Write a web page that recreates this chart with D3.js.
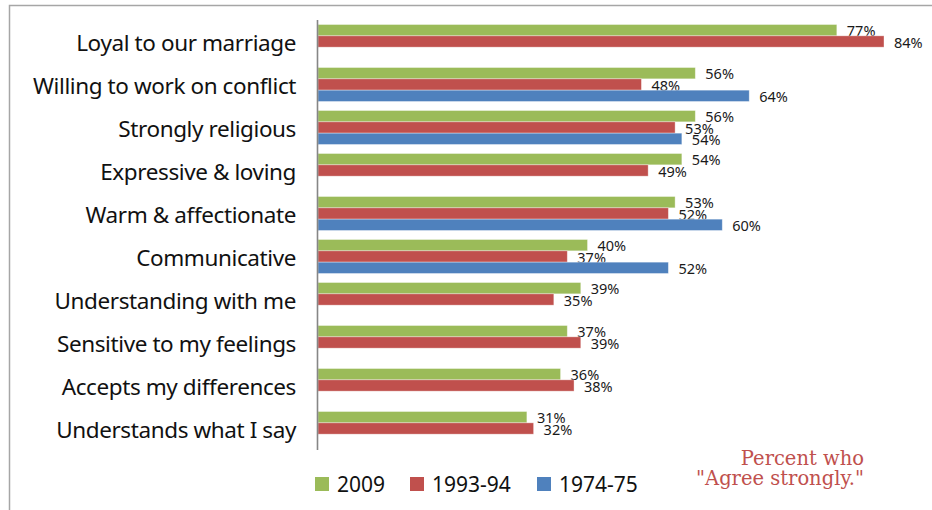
<!DOCTYPE html>
<html>
<head>
<meta charset="utf-8">
<script src="https://cdn.jsdelivr.net/npm/d3@7"></script>
<style>
  html, body { margin: 0; padding: 0; background: #fff; }
  #chart { width: 932px; height: 510px; }
</style>
</head>
<body>
<div id="chart"></div>
<script>
const categories = [
  "Loyal to our marriage",
  "Willing to work on conflict",
  "Strongly religious",
  "Expressive & loving",
  "Warm & affectionate",
  "Communicative",
  "Understanding with me",
  "Sensitive to my feelings",
  "Accepts my differences",
  "Understands what I say",
];

const seriesNames = ["2009", "1993-94", "1974-75"];
const values2009 = [77, 56, 56, 54, 53, 40, 39, 37, 36, 31];
const values1993 = [84, 48, 53, 49, 52, 37, 35, 39, 38, 32];
const values1974 = [null, 64, 54, null, 60, 52, null, null, null, null];
const seriesColors = ["#9bbb59", "#c0504d", "#4f81bd"];
const noteLines = ["Percent who", "\"Agree strongly.\""];

const width = 932;
const height = 510;

const series = [values2009, values1993, values1974].map((vals, i) => ({
  name: seriesNames[i],
  color: seriesColors[i],
  values: vals,
}));

const svg = d3
  .select("#chart")
  .append("svg")
  .attr("width", width)
  .attr("height", height)
  .attr("viewBox", `0 0 ${width} ${height}`);

// outer frame (top + left edges only)
svg.append("path")
  .attr("d", `M9.5,${height} V5.5 H${width}`)
  .attr("fill", "none")
  .attr("stroke", "#a6a6a6")
  .attr("stroke-width", 1.5);

const x = d3.scaleLinear().domain([0, 100]).range([318, 318 + 673.8]);

const y = d3
  .scaleBand()
  .domain(categories)
  .range([20, 450])
  .paddingInner(0.21)
  .paddingOuter(0.105);

const ySeries = d3
  .scaleBand()
  .domain(seriesNames)
  .range([0, y.bandwidth()]);

const groups = svg
  .selectAll("g.cat")
  .data(categories)
  .join("g")
  .attr("class", "cat")
  .attr("transform", (d) => `translate(0, ${y(d)})`);

series.forEach((s) => {
  const pts = categories
    .map((c, i) => ({ cat: c, value: s.values[i] }))
    .filter((d) => d.value != null);

  const g = svg.append("g");

  g.selectAll("rect")
    .data(pts)
    .join("rect")
    .attr("x", x(0))
    .attr("y", (d) => y(d.cat) + ySeries(s.name))
    .attr("width", (d) => x(d.value) - x(0))
    .attr("height", ySeries.bandwidth())
    .attr("fill", s.color)
    .attr("stroke", "#ffffff")
    .attr("stroke-opacity", 0.45)
    .attr("stroke-width", 0.8);

  g.selectAll("text")
    .data(pts)
    .join("text")
    .attr("x", (d) => x(d.value) + 10)
    .attr("y", (d) => y(d.cat) + ySeries(s.name) + ySeries.bandwidth() / 2 + 1)
    .attr("dy", "0.36em")
    .attr("font-family", "'Noto Sans', sans-serif")
    .attr("font-size", 14.5)
    .attr("fill", "#1a1a1a")
    .text((d) => `${d.value}%`);
});

// category axis
svg.append("line")
  .attr("x1", x(0) - 0.5)
  .attr("x2", x(0) - 0.5)
  .attr("y1", 20)
  .attr("y2", 450)
  .attr("stroke", "#868686")
  .attr("stroke-width", 1.6);

groups.append("text")
  .attr("x", 296)
  .attr("y", y.bandwidth() / 2 + 1)
  .attr("dy", "0.36em")
  .attr("text-anchor", "end")
  .attr("font-family", "'Noto Sans', sans-serif")
  .attr("font-size", 22.5)
  .attr("letter-spacing", -0.4)
  .attr("fill", "#111")
  .text((d) => d);

// legend
const legendX = [315, 410, 537];
const legend = svg.append("g");

series.forEach((s, i) => {
  const entry = legend.append("g").attr("transform", `translate(${legendX[i]}, 484)`);
  entry.append("rect")
    .attr("x", 0)
    .attr("y", -7)
    .attr("width", 14)
    .attr("height", 14)
    .attr("fill", s.color);
  entry.append("text")
    .attr("x", 22)
    .attr("y", 0)
    .attr("dy", "0.36em")
    .attr("font-family", "'Noto Sans', sans-serif")
    .attr("font-size", 21)
    .attr("fill", "#111")
    .text(s.name);
});

// note
svg.append("g")
  .selectAll("text")
  .data(noteLines)
  .join("text")
  .attr("x", 864)
  .attr("y", (d, i) => 465 + i * 20)
  .attr("text-anchor", "end")
  .attr("font-family", "'DejaVu Serif', serif")
  .attr("font-size", 19.5)
  .attr("fill", "#c0504d")
  .text((d) => d);
</script>
</body>
</html>
